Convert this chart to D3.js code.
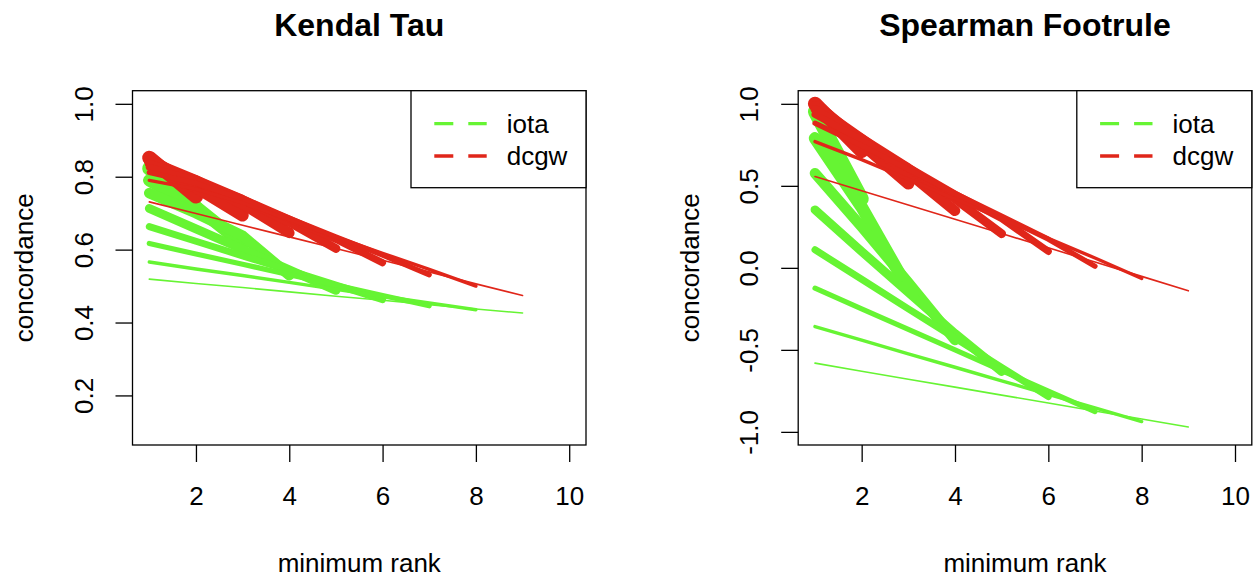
<!DOCTYPE html>
<html>
<head>
<meta charset="utf-8">
<script src="https://cdn.jsdelivr.net/npm/d3@7"></script>
<style>
  body { margin: 0; background: #fff; }
  text { font-family: "Liberation Sans", Arial, Helvetica, sans-serif; fill: #000; }
</style>
</head>
<body>
<div id="chart"></div>
<script>
// one curve per maximum rank, minimum rank runs 1 .. maxRank-1
const maxRanks = [3, 4, 5, 6, 7, 8, 9, 10]
const xTicks = [2, 4, 6, 8, 10]
const kendalTicks = [0.2, 0.4, 0.6, 0.8, 1.0]
const spearTicks = [-1.0, -0.5, 0.0, 0.5, 1.0]
const seriesNames = ["iota", "dcgw"]

const kendalIota = [
	[0.823, 0.715],
	[0.790, 0.718, 0.615],
	[0.755, 0.700, 0.638, 0.530],
	[0.713, 0.657, 0.601, 0.545, 0.488],
	[0.663, 0.623, 0.583, 0.543, 0.503, 0.463],
	[0.617, 0.588, 0.560, 0.531, 0.503, 0.474, 0.446],
	[0.566, 0.547, 0.529, 0.510, 0.491, 0.472, 0.454, 0.435],
	[0.519, 0.507, 0.496, 0.484, 0.472, 0.461, 0.449, 0.437, 0.426]
]
const kendalDcgw = [
	[0.852, 0.746],
	[0.848, 0.772, 0.694],
	[0.843, 0.790, 0.725, 0.646],
	[0.835, 0.792, 0.738, 0.675, 0.603],
	[0.826, 0.790, 0.740, 0.684, 0.628, 0.564],
	[0.812, 0.782, 0.738, 0.686, 0.635, 0.585, 0.531],
	[0.790, 0.766, 0.728, 0.682, 0.635, 0.590, 0.546, 0.500],
	[0.731, 0.699, 0.667, 0.635, 0.603, 0.571, 0.539, 0.506, 0.474]
]
const spearIota = [
	[0.953, 0.420],
	[0.790, 0.370, -0.130],
	[0.577, 0.250, -0.090, -0.439],
	[0.354, 0.100, -0.150, -0.400, -0.632],
	[0.110, -0.070, -0.250, -0.428, -0.607, -0.785],
	[-0.124, -0.250, -0.375, -0.500, -0.626, -0.751, -0.876],
	[-0.358, -0.441, -0.524, -0.606, -0.689, -0.771, -0.854, -0.937],
	[-0.581, -0.630, -0.679, -0.727, -0.776, -0.824, -0.873, -0.921, -0.970]
]
const spearDcgw = [
	[1.000, 0.712],
	[0.995, 0.760, 0.515],
	[0.985, 0.785, 0.580, 0.348],
	[0.965, 0.790, 0.610, 0.420, 0.208],
	[0.935, 0.780, 0.615, 0.450, 0.300, 0.100],
	[0.882, 0.745, 0.600, 0.455, 0.315, 0.175, 0.010],
	[0.770, 0.660, 0.540, 0.420, 0.300, 0.180, 0.060, -0.065],
	[0.557, 0.470, 0.383, 0.296, 0.209, 0.122, 0.035, -0.052, -0.140]
]

const colors = ["#66f433", "#e0261a"]
const fontSize = 26

const svg = d3.select("#chart")
	.append("svg")
		.attr("width", 1254)
		.attr("height", 578);

const plotTop = 90.7, plotBottom = 445

function panel(cfg) {
	const x = d3.scaleLinear().domain([0.64, 10.36]).range([cfg.left, cfg.right])
	const y = d3.scaleLinear().domain(cfg.yDomain).range([plotBottom, plotTop])
	const g = svg.append("g")
	const line = d3.line()
		.x((d, i) => x(i + 1))
		.y(d => y(d));

	// thick lines first, thin (largest max rank) last
	const sets = [cfg.iota, cfg.dcgw]
	sets.forEach((set, k) => {
		g.append("g").selectAll("path")
			.data(set)
			.join("path")
				.attr("d", line)
				.attr("fill", "none")
				.attr("stroke", colors[k])
				.attr("stroke-width", (d, i) => (11 - maxRanks[i]) * 1.8 - 0.2)
				.attr("stroke-linecap", "round")
				.attr("stroke-linejoin", "round")
	})

	// X axis
	const xa = g.append("g")
		.attr("transform", `translate(0,${plotBottom})`)
		.call(d3.axisBottom(x).tickValues(xTicks).tickSize(17).tickSizeOuter(0).tickFormat(d3.format("d")))
	xa.select(".domain").remove()
	xa.selectAll("line").attr("stroke", "#000").attr("stroke-width", 1.3)
	xa.selectAll("text")
		.attr("y", 60)
		.attr("dy", 0)
		.attr("font-size", fontSize)
		.attr("font-family", null)

	// Y axis, labels written along the axis like base R
	const ya = g.append("g")
		.attr("transform", `translate(${cfg.left},0)`)
		.call(d3.axisLeft(y).tickValues(cfg.yTicks).tickSize(17).tickSizeOuter(0).tickFormat(d => d.toFixed(1)))
	ya.select(".domain").remove()
	ya.selectAll("line").attr("stroke", "#000").attr("stroke-width", 1.3)
	ya.selectAll("text")
		.attr("x", 0)
		.attr("y", -39.8)
		.attr("dy", 0)
		.attr("transform", "rotate(-90)")
		.attr("text-anchor", "middle")
		.attr("font-size", fontSize)
		.attr("font-family", null)

	// frame
	g.append("rect")
		.attr("x", cfg.left).attr("y", plotTop)
		.attr("width", cfg.right - cfg.left).attr("height", plotBottom - plotTop)
		.attr("fill", "none").attr("stroke", "#000").attr("stroke-width", 1.3)

	const cx = (cfg.left + cfg.right) / 2
	g.append("text")
		.attr("x", cx).attr("y", 36)
		.attr("text-anchor", "middle")
		.attr("font-size", 32).attr("font-weight", "bold")
		.text(cfg.title)
	g.append("text")
		.attr("x", cx).attr("y", 572)
		.attr("text-anchor", "middle")
		.attr("font-size", fontSize)
		.text("minimum rank")
	g.append("text")
		.attr("transform", `translate(${cfg.left - 99.5},${(plotTop + plotBottom) / 2}) rotate(-90)`)
		.attr("text-anchor", "middle")
		.attr("font-size", fontSize)
		.text("concordance")

	// legend, top right
	const lg = g.append("g").attr("transform", `translate(${cfg.right - 175},${plotTop})`)
	lg.append("rect")
		.attr("width", 175).attr("height", 97)
		.attr("fill", "#fff").attr("stroke", "#000").attr("stroke-width", 1.3)
	seriesNames.forEach((name, k) => {
		const ly = 33 + k * 32.3
		lg.append("line")
			.attr("x1", 23.3).attr("x2", 75.7)
			.attr("y1", ly).attr("y2", ly)
			.attr("stroke", colors[k]).attr("stroke-width", 3.3)
			.attr("stroke-dasharray", "19,15")
		lg.append("text")
			.attr("x", 95.7).attr("y", ly + 9.3)
			.attr("font-size", fontSize)
			.text(name)
	})
}

panel({ title: "Kendal Tau", left: 132.5, right: 586, yDomain: [0.064, 1.036], yTicks: kendalTicks, iota: kendalIota, dcgw: kendalDcgw })
panel({ title: "Spearman Footrule", left: 798.2, right: 1251.8, yDomain: [-1.08, 1.08], yTicks: spearTicks, iota: spearIota, dcgw: spearDcgw })
</script>
</body>
</html>
